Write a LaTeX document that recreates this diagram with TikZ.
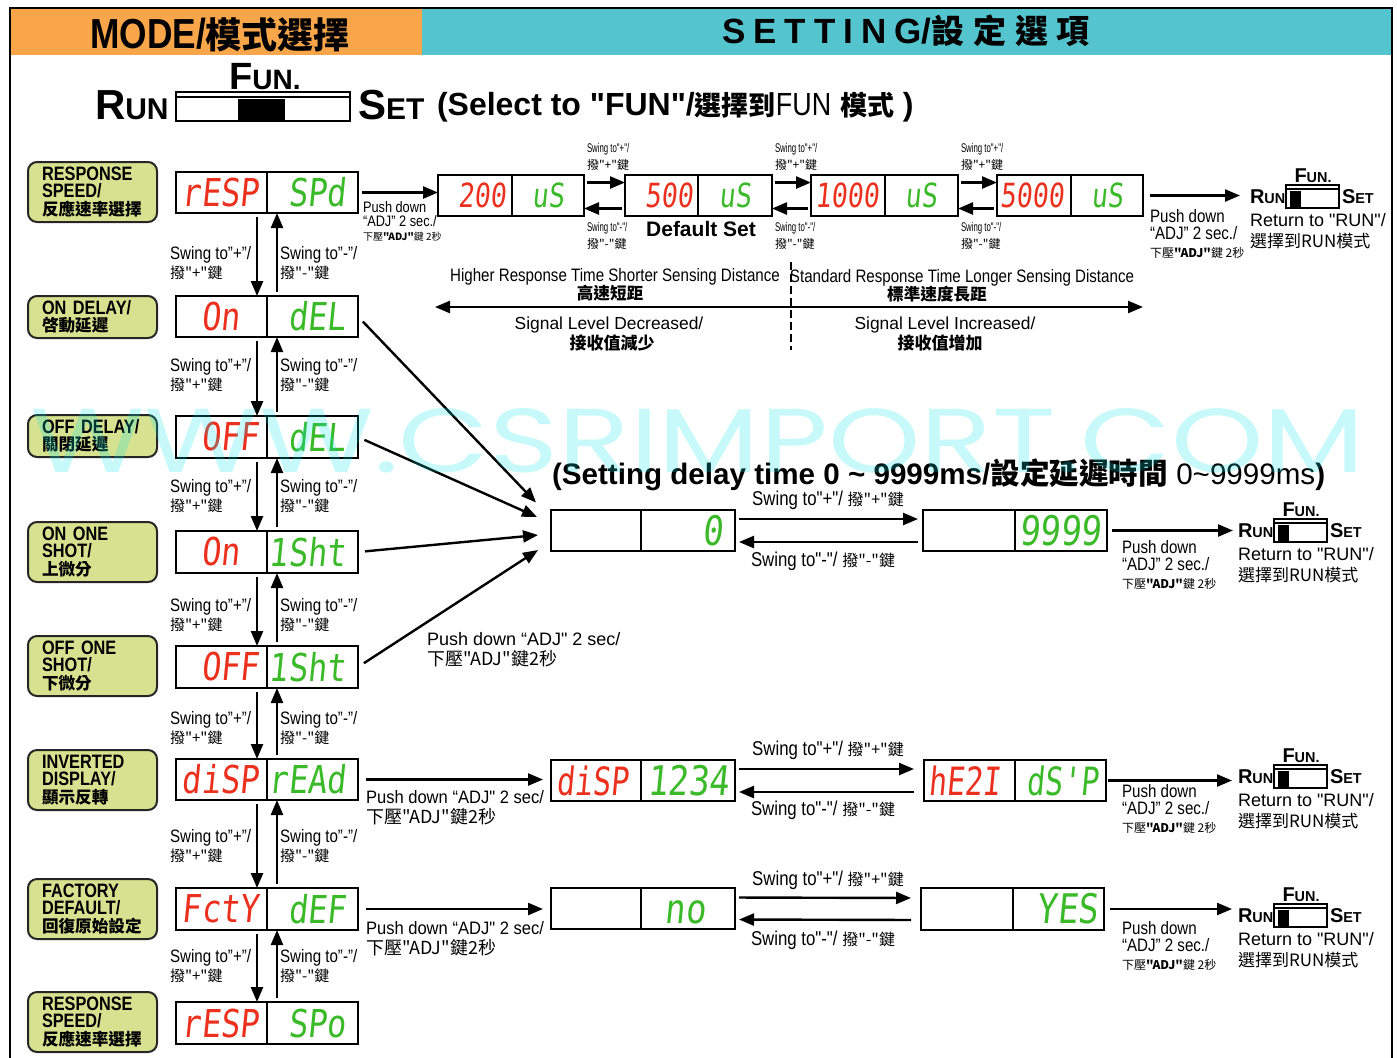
\documentclass[tikz,border=0pt]{standalone}
\usepackage{fontspec}
\usepackage{graphicx}
\usetikzlibrary{arrows.meta,calc}
\setmainfont{Liberation Sans}
\newfontfamily\lsans{Liberation Sans}
\newfontfamily\nar[FakeStretch=0.84]{Liberation Sans}
\newfontfamily\nrb[FakeStretch=0.92]{Liberation Sans}
\newfontfamily\nxn[FakeStretch=0.62]{Liberation Sans}
\newfontfamily\cjk{Noto Sans CJK TC}
\newfontfamily\seg[FakeSlant=0.12]{DejaVu Sans Mono}
\newfontfamily\wmf{Poppins}
\definecolor{hdrorange}{RGB}{249,166,74}
\definecolor{hdrcyan}{RGB}{84,196,207}
\definecolor{modegreen}{RGB}{214,226,143}
\definecolor{segred}{RGB}{236,48,30}
\definecolor{seggreen}{RGB}{58,186,40}
\definecolor{wmcyan}{RGB}{0,229,238}
\newcommand\caps[4]{{\bfseries\fontsize{#1}{#1}\selectfont #3\fontsize{#2}{#2}\selectfont #4}}
\newcommand\sgt[2][1.2]{\scalebox{1}[#1]{\vphantom{0}#2}}
\newcommand\cjkb{\cjk\fontsize{8.3}{8.7}\selectfont}
\tikzset{
  every node/.style={inner sep=0pt, outer sep=0pt},
  modebox/.style={draw=black!85, line width=1pt, rounded corners=4.5pt, fill=modegreen,
    align=left, text width=50.5pt, inner xsep=7pt, font=\nar\bfseries\fontsize{9.7}{8.7}\selectfont},
  half/.style={draw, line width=1.3pt},
  dline/.style={line width=1.3pt},
  arr/.style={line width=1.2pt, -{Triangle[length=7.5pt,width=6pt]}},
  arr2/.style={line width=1.2pt, {Triangle[length=7.5pt,width=6pt]}-{Triangle[length=7.5pt,width=6pt]}},
  segLm/.style={anchor=east, text=segred, font=\seg\fontsize{16}{16}\selectfont},
  segRm/.style={anchor=east, text=seggreen, font=\seg\fontsize{16}{16}\selectfont},
  segLt/.style={anchor=east, text=segred, font=\seg\fontsize{13.3}{13.3}\selectfont},
  segRt/.style={anchor=center, text=seggreen, font=\seg\fontsize{13.3}{13.3}\selectfont},
  segLd/.style={anchor=east, text=segred, font=\seg\fontsize{15}{15}\selectfont},
  segRd/.style={anchor=east, text=seggreen, font=\seg\fontsize{17}{17}\selectfont},
  swinglbl/.style={anchor=west, align=left, font=\nar\fontsize{9}{8}\selectfont},
  tinylbl/.style={anchor=west, align=left, font=\nxn\fontsize{6.3}{8.5}\selectfont},
  midlbl/.style={anchor=center, font=\nar\fontsize{10}{10}\selectfont},
  pushlbl/.style={anchor=north west, align=left, font=\nar\fontsize{9}{8.9}\selectfont},
  retlbl/.style={anchor=north west, align=left, font=\lsans\fontsize{9}{10.5}\selectfont},
}
\newcommand\dispbox[6]{%
  \node[half, minimum width={(#4-#2)*0.5pt}, minimum height={(#6-#5)*0.5pt}] (#1) at ({(#2+#4)/2},{(#5+#6)/2}) {};
  \draw[dline] (#3,#5) -- (#3,#6);}
\newcommand\swgroup[3]{%
  \node[anchor=base west] (run#1) at (#2,#3+18) {\caps{10}{7.2}{R}{UN}};
  \node[draw, line width=0.9pt, minimum width=26.5pt, minimum height=11.5pt, anchor=north west] (sw#1) at (#2+36,#3) {};
  \draw[line width=0.8pt] ([yshift=-2pt]sw#1.north west) -- ([yshift=-2pt]sw#1.north east);
  \fill ([shift={(1.8pt,-3pt)}]sw#1.north west) rectangle ([xshift=7.5pt]sw#1.south west);
  \node[anchor=base] (fun#1) at (#2+63,#3-3) {\caps{10}{7.2}{F}{UN.}};
  \node[anchor=base west] (set#1) at (#2+92,#3+18) {\caps{10}{7.2}{S}{ET}};
  \node[retlbl] (ret#1) at (#2,#3+28) {Return to "RUN"/\\{\cjk\fontsize{8.5}{10.5}\selectfont 選擇到RUN模式}};}
\newcommand\pushtxt{Push down\\“ADJ” 2 sec./\\{\cjk\fontsize{6}{8.9}\selectfont 下壓{\bfseries"ADJ"}鍵 2秒}}
\begin{document}
\begin{tikzpicture}[x=0.5pt,y=-0.5pt]
\path[use as bounding box] (0,0) rectangle (1397,1057);
\clip (0,0) rectangle (1397,1057);
% header
\fill[hdrorange] (11,9) rectangle (422,55);
\fill[hdrcyan] (422,9) rectangle (1391,55);
\draw[line width=1.1pt] (10,1070) -- (10,8) -- (1392,8) -- (1392,1070);
\node[anchor=base, font=\nar\bfseries\fontsize{21}{21}\selectfont] (t1) at (220,48)
  {MODE/{\cjk\fontsize{18}{18}\selectfont 模式選擇}};
\node[anchor=base west, font=\bfseries\fontsize{17.5}{17.5}\selectfont] (t2) at (722,43)
  {\hbox to 100pt{S\hfill E\hfill T\hfill T\hfill I\hfill N\hfill G}/\hbox to 79pt{\cjk\fontsize{16.5}{16.5}\selectfont 設\hfill 定\hfill 選\hfill 項}};
% main switch
\node[anchor=base west] (runbig) at (95,119) {\caps{21}{15}{R}{UN}};
\node[draw, line width=1pt, minimum width=87pt, minimum height=14.5pt, anchor=north west] (swmain) at (176,92) {};
\draw[line width=0.9pt] ([yshift=-2.5pt]swmain.north west) -- ([yshift=-2.5pt]swmain.north east);
\fill ([shift={(31pt,-3.5pt)}]swmain.north west) rectangle ([xshift=54.5pt]swmain.south west);
\node[anchor=base] (funbig) at (265,89) {\caps{19}{14}{F}{UN.}};
\node[anchor=base west] (setbig) at (358,119) {\caps{21}{15}{S}{ET}};
\node[anchor=base west, font=\lsans\bfseries\fontsize{16}{16}\selectfont] (sel) at (437,115)
  {(Select to "FUN"/{\cjk\fontsize{13.5}{15}\selectfont 選擇到}{\nar\mdseries FUN} {\cjk\fontsize{13.5}{15}\selectfont 模式} )};
% mode boxes
\node[modebox, minimum height=30pt] (m1) at (92.5,192) {RESPONSE\\SPEED/\\\cjkb 反應速率選擇};
\node[modebox, minimum height=21pt] (m2) at (92.5,317) {ON DELAY/\\\cjkb 啓動延遲};
\node[modebox, minimum height=21pt] (m3) at (92.5,436) {OFF DELAY/\\\cjkb 關閉延遲};
\node[modebox, minimum height=30pt] (m4) at (92.5,552) {ON ONE\\SHOT/\\\cjkb 上微分};
\node[modebox, minimum height=30pt] (m5) at (92.5,666) {OFF ONE\\SHOT/\\\cjkb 下微分};
\node[modebox, minimum height=30pt] (m6) at (92.5,780) {INVERTED\\DISPLAY/\\\cjkb 顯示反轉};
\node[modebox, minimum height=30pt] (m7) at (92.5,909) {FACTORY\\DEFAULT/\\\cjkb 回復原始設定};
\node[modebox, minimum height=30pt] (m8) at (92.5,1022) {RESPONSE\\SPEED/\\\cjkb 反應速率選擇};
% main display column
\dispbox{d1}{176}{267}{358}{172}{213}
\dispbox{d2}{176}{267}{358}{296}{337}
\dispbox{d3}{176}{267}{358}{416}{458}
\dispbox{d4}{176}{267}{358}{531}{573}
\dispbox{d5}{176}{267}{358}{646}{688}
\dispbox{d6}{176}{267}{358}{759}{800}
\dispbox{d7}{176}{267}{358}{888}{930}
\dispbox{d8}{176}{267}{358}{1002}{1044}
\node[segLm] (d1a) at (259,192.5) {\sgt{rESP}};  \node[segRm] (d1b) at (346,192.5) {\sgt{SPd}};
\node[segLm] (d2a) at (259,316.5) {\sgt{On\phantom{0}}};  \node[segRm] (d2b) at (346,316.5) {\sgt{dEL}};
\node[segLm] (d3a) at (259,437) {\sgt{OFF}};  \node[segRm] (d3b) at (346,437) {\sgt{dEL}};
\node[segLm] (d4a) at (259,552) {\sgt{On\phantom{0}}};  \node[segRm] (d4b) at (346,552) {\sgt{1Sht}};
\node[segLm] (d5a) at (259,667) {\sgt{OFF}};  \node[segRm] (d5b) at (346,667) {\sgt{1Sht}};
\node[segLm] (d6a) at (259,779.5) {\sgt{diSP}};  \node[segRm] (d6b) at (346,779.5) {\sgt{rEAd}};
\node[segLm] (d7a) at (259,909) {\sgt{FctY}};  \node[segRm] (d7b) at (346,909) {\sgt{dEF}};
\node[segLm] (d8a) at (259,1023) {\sgt{rESP}};  \node[segRm] (d8b) at (346,1023) {\sgt{SPo}};
\foreach \a/\b in {d1/d2,d2/d3,d3/d4,d4/d5,d5/d6,d6/d7,d7/d8}{
  \draw[arr, shorten <=2pt] ([xshift=-5pt]\a.south) -- ([xshift=-5pt]\b.north);
  \draw[arr, shorten <=2pt] ([xshift=5pt]\b.north) -- ([xshift=5pt]\a.south);}
\foreach \yy [count=\i] in {263,375,496,615,728,846,966}{
  \node[swinglbl] (sp\i) at (170,\yy) {Swing to”+”/\\{\cjk\fontsize{7.5}{8}\selectfont 撥"+"鍵}};
  \node[swinglbl] (sm\i) at (280,\yy) {Swing to”-”/\\{\cjk\fontsize{7.5}{8}\selectfont 撥"-"鍵}};}
% response speed row
\dispbox{r200}{438}{512}{584}{175}{216}
\dispbox{r500}{625}{698}{772}{175}{216}
\dispbox{r1000}{811}{885}{958}{175}{216}
\dispbox{r5000}{997}{1071}{1143}{175}{216}
\node[segLt] (r200a) at (506,195.5) {\sgt[1.25]{200}};   \node[segRt] (r200b) at (548,195.5) {\sgt[1.25]{uS}};
\node[segLt] (r500a) at (693,195.5) {\sgt[1.25]{500}};   \node[segRt] (r500b) at (735,195.5) {\sgt[1.25]{uS}};
\node[segLt] (r1000a) at (879,195.5) {\sgt[1.25]{1000}}; \node[segRt] (r1000b) at (921,195.5) {\sgt[1.25]{uS}};
\node[segLt] (r5000a) at (1064,195.5) {\sgt[1.25]{5000}}; \node[segRt] (r5000b) at (1107,195.5) {\sgt[1.25]{uS}};
\draw[arr, shorten <=2pt] (d1.east) -- (d1.east -| r200.west);
\node[anchor=north west, align=left, font=\nar\fontsize{7.6}{7.2}\selectfont] (pd0) at (363,201)
  {Push down\\“ADJ” 2 sec./\\{\cjk\fontsize{5}{7.2}\selectfont 下壓{\bfseries"ADJ"}鍵 2秒}};
\foreach \a/\b/\xx in {r200/r500/587,r500/r1000/775,r1000/r5000/961}{
  \draw[arr, shorten <=1.5pt] ([yshift=6.5pt]\a.east) -- ([yshift=6.5pt]\b.west);
  \draw[arr, shorten <=1.5pt] ([yshift=-6.5pt]\b.west) -- ([yshift=-6.5pt]\a.east);
  \node[tinylbl] (tp\a) at (\xx,157) {Swing to"+"/\\{\cjk\fontsize{6}{8.5}\selectfont 撥"+"鍵}};
  \node[tinylbl] (tm\a) at (\xx,236) {Swing to"-"/\\{\cjk\fontsize{6}{8.5}\selectfont 撥"-"鍵}};}
\node[anchor=base, font=\bfseries\fontsize{10.5}{10.5}\selectfont] (defset) at (701,236) {Default Set};
\swgroup{1}{1250}{185}
\draw[arr, shorten <=3.5pt, shorten >=5pt] (r5000.east) -- (r5000.east -| run1.west);
\node[pushlbl] (pd1) at (1150,209) {\pushtxt};
% range description
\node[anchor=base, font=\nar\fontsize{9}{9}\selectfont] (hi) at (615,281) {Higher Response Time Shorter Sensing Distance};
\node[anchor=base, font=\cjk\bfseries\fontsize{8.3}{8.3}\selectfont] (hicn) at (610,299) {高速短距};
\node[anchor=base, font=\nar\fontsize{9}{9}\selectfont] (std) at (962,282) {Standard Response Time Longer Sensing Distance};
\node[anchor=base, font=\cjk\bfseries\fontsize{8.3}{8.3}\selectfont] (stdcn) at (937,300) {標準速度長距};
\coordinate (la) at (435,307);
\coordinate (ra) at (1143,307);
\draw[arr2] (la) -- (ra);
\coordinate (dsh1) at (791,262);
\coordinate (dsh2) at (791,350);
\draw[line width=1.2pt, dash pattern=on 4pt off 2pt] (dsh1) -- (dsh2);
\node[anchor=base, font=\fontsize{8.7}{8.7}\selectfont] (dec) at (609,329) {Signal Level Decreased/};
\node[anchor=base, font=\cjk\bfseries\fontsize{8.5}{8.5}\selectfont] (deccn) at (612,349) {接收值減少};
\node[anchor=base, font=\fontsize{8.7}{8.7}\selectfont] (inc) at (945,329) {Signal Level Increased/};
\node[anchor=base, font=\cjk\bfseries\fontsize{8.5}{8.5}\selectfont] (inccn) at (940,349) {接收值增加};
% delay section
\node[anchor=base west, font=\fontsize{14.8}{14.8}\selectfont] (dtitle) at (552,484)
  {{\bfseries (Setting delay time 0 \textasciitilde{} 9999ms/}{\cjk\bfseries 設定延遲時間} 0\textasciitilde 9999ms{\bfseries )}};
\dispbox{z0}{551}{641}{735}{510}{551}
\dispbox{z9}{923}{1015}{1107}{510}{551}
\node[segRd] (z0b) at (723,530.5) {\sgt{0}};
\node[segRd] (z9b) at (1101,530.5) {\sgt{9999}};
\draw[arr, shorten <=2pt, shorten >=2.5pt] ([yshift=5.75pt]z0.east) -- ([yshift=5.75pt]z9.west);
\draw[arr, shorten <=2.5pt, shorten >=2pt] ([yshift=-5.75pt]z9.west) -- ([yshift=-5.75pt]z0.east);
\node[midlbl] (zp) at (828,500) {Swing to"+"/ {\cjk\fontsize{8}{8}\selectfont 撥"+"鍵}};
\node[midlbl] (zm) at (823,561) {Swing to"-"/ {\cjk\fontsize{8}{8}\selectfont 撥"-"鍵}};
\draw[arr, shorten <=3.5pt] (d2.east) -- ([shift={(-15,-28)}]z0.west);
\draw[arr, shorten <=3.5pt] (d3.east) -- ([shift={(-14,-13.5)}]z0.west);
\draw[arr, shorten <=3.5pt] (d4.east) -- ([shift={(-13,4.5)}]z0.west);
\draw[arr, shorten <=3.5pt] (d5.east) -- ([shift={(-13,19.5)}]z0.west);
\node[anchor=north west, align=left, font=\lsans\fontsize{9}{10}\selectfont] (pdz) at (427,632)
  {Push down “ADJ" 2 sec/\\{\cjk\fontsize{9}{10}\selectfont 下壓"ADJ"鍵2秒}};
\swgroup{2}{1238}{519}
\draw[arr, shorten <=2.5pt, shorten >=2.5pt] (z9.east) -- (z9.east -| run2.west);
\node[pushlbl] (pd2) at (1122,540) {\pushtxt};
% inverted display
\dispbox{i1}{551}{641}{735}{760}{801}
\dispbox{i2}{924}{1015}{1106}{760}{801}
\node[segLd] (i1a) at (629,780.5) {\sgt[1.3]{diSP}};
\node[segRd] (i1b) at (729,780.5) {\sgt{1234}};
\node[segLd] (i2a) at (1001,780.5) {\sgt[1.3]{hE2I}};
\node[segLd, text=seggreen] (i2b) at (1099,780.5) {\sgt[1.3]{dS'P}};
\draw[arr, shorten <=4pt, shorten >=4pt] (d6.east) -- (d6.east -| i1.west);
\node[anchor=north west, align=left, font=\nrb\fontsize{9}{10}\selectfont] (pdi) at (366,790)
  {Push down “ADJ" 2 sec/\\{\cjk\fontsize{9}{10}\selectfont 下壓"ADJ"鍵2秒}};
\draw[arr, shorten <=2pt, shorten >=5pt] ([yshift=5.75pt]i1.east) -- ([yshift=5.75pt]i2.west);
\draw[arr, shorten <=5pt, shorten >=2pt] ([yshift=-5.75pt]i2.west) -- ([yshift=-5.75pt]i1.east);
\node[midlbl] (ip) at (828,750) {Swing to"+"/ {\cjk\fontsize{8}{8}\selectfont 撥"+"鍵}};
\node[midlbl] (im) at (823,810) {Swing to"-"/ {\cjk\fontsize{8}{8}\selectfont 撥"-"鍵}};
\swgroup{3}{1238}{765}
\draw[arr, shorten <=1pt, shorten >=3pt] (i2.east) -- (i2.east -| run3.west);
\node[pushlbl] (pd3) at (1122,784) {\pushtxt};
% factory default
\dispbox{f1}{551}{641}{735}{888}{929}
\dispbox{f2}{921}{1013}{1104}{888}{930}
\node[segRd] (f1b) at (726,908.5) {\sgt{no\phantom{0}}};
\node[segRd] (f2b) at (1098,909) {\sgt{YES}};
\draw[arr, shorten <=4pt, shorten >=4pt] (d7.east) -- (d7.east -| f1.west);
\node[anchor=north west, align=left, font=\nrb\fontsize{9}{10}\selectfont] (pdf) at (366,921)
  {Push down “ADJ" 2 sec/\\{\cjk\fontsize{9}{10}\selectfont 下壓"ADJ"鍵2秒}};
\draw[arr, shorten <=2pt, shorten >=5pt] ([yshift=5.5pt]f1.east) -- ([yshift=5.5pt]f2.west);
\draw[arr, shorten <=5pt, shorten >=2pt] ([yshift=-5.5pt]f2.west) -- ([yshift=-5.5pt]f1.east);
\node[midlbl] (fp) at (828,880) {Swing to"+"/ {\cjk\fontsize{8}{8}\selectfont 撥"+"鍵}};
\node[midlbl] (fm) at (823,940) {Swing to"-"/ {\cjk\fontsize{8}{8}\selectfont 撥"-"鍵}};
\swgroup{4}{1238}{904}
\draw[arr, shorten <=3pt, shorten >=3pt] (f2.east) -- (f2.east -| run4.west);
\node[pushlbl] (pd4) at (1122,921) {\pushtxt};
% watermark
\node[anchor=south west, text=wmcyan, opacity=0.22] (wm) at (30,473)
  {\resizebox{667pt}{32pt}{\wmf WWW.CSRIMPORT.COM}};
\end{tikzpicture}
\end{document}
